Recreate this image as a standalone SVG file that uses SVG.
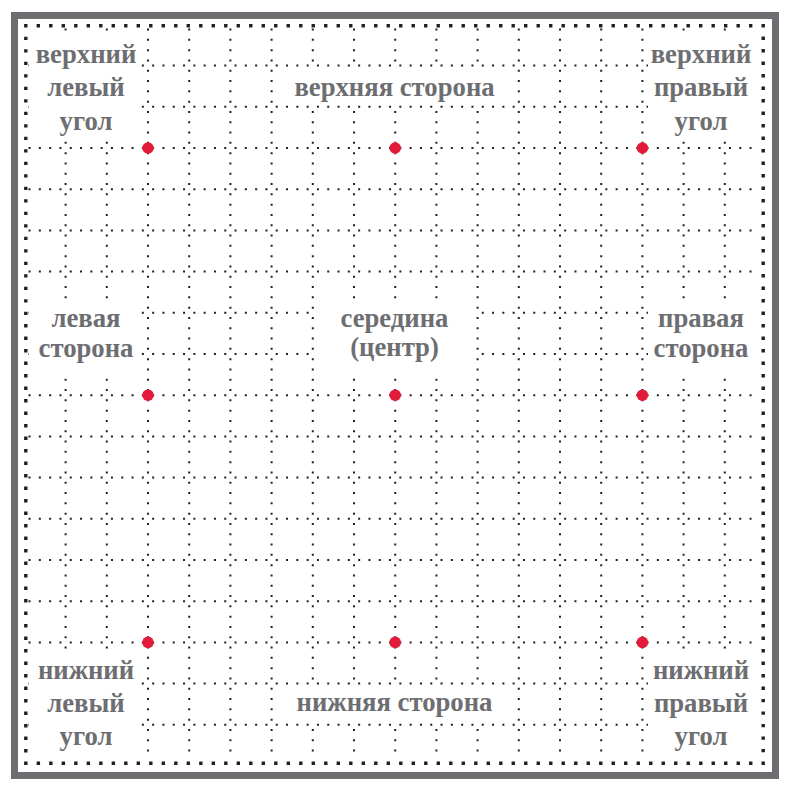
<svg xmlns="http://www.w3.org/2000/svg" width="794" height="788" viewBox="0 0 794 788">
<style>
.lbl{font-family:"Liberation Serif","Times New Roman",serif;font-weight:bold;font-size:26.7px;fill:#6d6e71;text-anchor:middle}
.g line{stroke:#231f20;stroke-width:2;stroke-dasharray:2 8.3}
.mask{fill:#ffffff}
.pt{fill:#e31b3b}
</style>
<rect width="794" height="788" fill="#ffffff"/>
<rect id="frame" x="14.5" y="15.5" width="761" height="760" fill="#ffffff" stroke="#6d6e71" stroke-width="7"/>
<g id="connectors" class="g">
<line x1="28.55" y1="65.6" x2="751.55" y2="65.6"/>
<line x1="28.55" y1="106.8" x2="751.55" y2="106.8"/>
<line x1="28.55" y1="148" x2="751.55" y2="148"/>
<line x1="28.55" y1="189.2" x2="751.55" y2="189.2"/>
<line x1="28.55" y1="230.4" x2="751.55" y2="230.4"/>
<line x1="28.55" y1="271.6" x2="751.55" y2="271.6"/>
<line x1="28.55" y1="312.8" x2="751.55" y2="312.8"/>
<line x1="28.55" y1="354" x2="751.55" y2="354"/>
<line x1="28.55" y1="395.2" x2="751.55" y2="395.2"/>
<line x1="28.55" y1="436.4" x2="751.55" y2="436.4"/>
<line x1="28.55" y1="477.6" x2="751.55" y2="477.6"/>
<line x1="28.55" y1="518.8" x2="751.55" y2="518.8"/>
<line x1="28.55" y1="560" x2="751.55" y2="560"/>
<line x1="28.55" y1="601.2" x2="751.55" y2="601.2"/>
<line x1="28.55" y1="642.4" x2="751.55" y2="642.4"/>
<line x1="28.55" y1="683.6" x2="751.55" y2="683.6"/>
<line x1="28.55" y1="724.8" x2="751.55" y2="724.8"/>
<line y1="28.55" x1="65.6" y2="751.55" x2="65.6"/>
<line y1="28.55" x1="106.8" y2="751.55" x2="106.8"/>
<line y1="28.55" x1="148" y2="751.55" x2="148"/>
<line y1="28.55" x1="189.2" y2="751.55" x2="189.2"/>
<line y1="28.55" x1="230.4" y2="751.55" x2="230.4"/>
<line y1="28.55" x1="271.6" y2="751.55" x2="271.6"/>
<line y1="28.55" x1="312.8" y2="751.55" x2="312.8"/>
<line y1="28.55" x1="354" y2="751.55" x2="354"/>
<line y1="28.55" x1="395.2" y2="751.55" x2="395.2"/>
<line y1="28.55" x1="436.4" y2="751.55" x2="436.4"/>
<line y1="28.55" x1="477.6" y2="751.55" x2="477.6"/>
<line y1="28.55" x1="518.8" y2="751.55" x2="518.8"/>
<line y1="28.55" x1="560" y2="751.55" x2="560"/>
<line y1="28.55" x1="601.2" y2="751.55" x2="601.2"/>
<line y1="28.55" x1="642.4" y2="751.55" x2="642.4"/>
<line y1="28.55" x1="683.6" y2="751.55" x2="683.6"/>
<line y1="28.55" x1="724.8" y2="751.55" x2="724.8"/>
</g>
<rect id="border" x="25.8" y="25.8" width="737.4" height="737.4" fill="none" stroke="#231f20" stroke-width="3.4" stroke-dasharray="3.4 9.098" stroke-dashoffset="1.7"/>
<g id="masks" class="mask">
<rect x="29" y="38" width="112" height="101"/>
<rect x="290" y="68" width="210" height="36.5"/>
<rect x="648" y="38" width="112" height="101"/>
<rect x="29" y="300" width="112" height="78"/>
<rect x="316" y="300" width="158" height="78"/>
<rect x="648" y="300" width="112" height="78"/>
<rect x="29" y="654" width="112" height="98"/>
<rect x="290" y="686" width="210" height="36.5"/>
<rect x="648" y="654" width="112" height="98"/>
</g>
<g id="points" class="pt">
<circle cx="148" cy="148" r="5.8"/>
<circle cx="395.2" cy="148" r="5.8"/>
<circle cx="642.4" cy="148" r="5.8"/>
<circle cx="148" cy="395.2" r="5.8"/>
<circle cx="395.2" cy="395.2" r="5.8"/>
<circle cx="642.4" cy="395.2" r="5.8"/>
<circle cx="148" cy="642.4" r="5.8"/>
<circle cx="395.2" cy="642.4" r="5.8"/>
<circle cx="642.4" cy="642.4" r="5.8"/>
</g>
<g id="top-left" class="lbl"><text x="86" y="62.5">верхний</text><text x="86" y="96">левый</text><text x="86" y="129.5">угол</text></g>
<g id="top" class="lbl"><text x="394.5" y="95.5">верхняя сторона</text></g>
<g id="top-right" class="lbl"><text x="701" y="62.5">верхний</text><text x="701" y="96">правый</text><text x="701" y="129.5">угол</text></g>
<g id="left" class="lbl"><text x="86" y="327">левая</text><text x="86" y="357">сторона</text></g>
<g id="center" class="lbl"><text x="394.5" y="327">середина</text><text x="394.5" y="356">(центр)</text></g>
<g id="right" class="lbl"><text x="701" y="327">правая</text><text x="701" y="357">сторона</text></g>
<g id="bottom-left" class="lbl"><text x="86" y="679">нижний</text><text x="86" y="712">левый</text><text x="86" y="745">угол</text></g>
<g id="bottom" class="lbl"><text x="394.5" y="711">нижняя сторона</text></g>
<g id="bottom-right" class="lbl"><text x="701" y="679">нижний</text><text x="701" y="712">правый</text><text x="701" y="745">угол</text></g>
</svg>
